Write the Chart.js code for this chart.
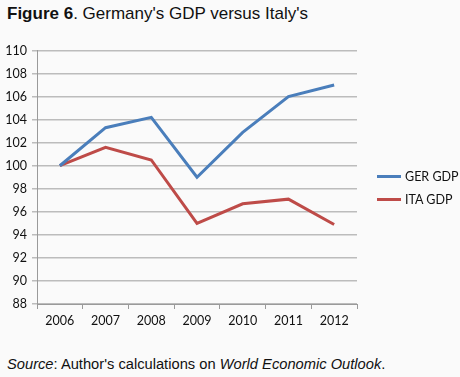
<!DOCTYPE html>
<html>
<head>
<meta charset="utf-8">
<script src="https://cdn.jsdelivr.net/npm/chart.js@4/dist/chart.umd.min.js"></script>
<style>
  body { margin: 0; background: #fafafa; width: 460px; height: 377px; overflow: hidden; position: relative; }
  #title { position: absolute; left: 7px; top: 4px; font: 17px "Liberation Sans", Arial, sans-serif; color: #111; white-space: nowrap; }
  #source { position: absolute; left: 7px; top: 356px; font: 14.7px "Liberation Sans", Arial, sans-serif; color: #111; white-space: nowrap; }
  #wrap { position: absolute; left: 0; top: 38px; width: 460px; height: 300px; }
  #legend { position: absolute; left: 377px; top: 165px; font: 12.5px Lato, sans-serif; color: #111; }
  .item { height: 23px; display: flex; align-items: center; }
  .swatch { width: 24px; height: 3px; margin-right: 4px; }
</style>
</head>
<body>
<div id="title"><b>Figure 6</b>. Germany's GDP versus Italy's</div>
<div id="wrap"><canvas id="myChart"></canvas></div>
<div id="legend"></div>
<div id="source"><i>Source</i>: Author's calculations on <i>World Economic Outlook</i>.</div>
<script>
const years = ['2006', '2007', '2008', '2009', '2010', '2011', '2012'];
const gerGdp = [100, 103.3, 104.2, 99.0, 102.9, 106.0, 107.0];
const itaGdp = [100, 101.6, 100.5, 95.0, 96.7, 97.1, 94.9];
const seriesNames = ['GER GDP', 'ITA GDP'];
const seriesColors = ['#4a7ebb', '#be4b48'];

const ctx = document.getElementById('myChart').getContext('2d');
const datasets = [gerGdp, itaGdp].map(function (vals, i) {
    return {
        label: seriesNames[i],
        data: vals,
        borderColor: seriesColors[i],
        backgroundColor: seriesColors[i],
        borderWidth: 3,
        pointRadius: 0,
        tension: 0,
        fill: false
    };
});

const tickFont = { family: 'Lato', size: 12.5 };
const myChart = new Chart(ctx, {
    type: 'line',
    data: { labels: years, datasets: datasets },
    options: {
        responsive: true,
        maintainAspectRatio: false,
        animation: false,
        layout: { padding: { top: 12, right: 103, left: 0, bottom: 0 } },
        plugins: { legend: { display: false }, tooltip: { enabled: false } },
        scales: {
            x: {
                offset: true,
                grid: { drawOnChartArea: false, tickLength: 5, color: '#9a9a9a', offset: true },
                border: { color: '#9a9a9a' },
                ticks: { font: tickFont, color: '#111', padding: 4 },
                afterFit: function (scale) { scale.height = 34; }
            },
            y: {
                min: 88,
                max: 110,
                ticks: { stepSize: 2, font: tickFont, color: '#111', padding: 5 },
                grid: { color: '#bcbcbc', lineWidth: 1.5, tickLength: 5 },
                border: { color: '#9a9a9a' },
                afterFit: function (scale) { scale.width = 37; }
            }
        }
    }
});

// legend built from the series names/colours
const legend = document.getElementById('legend');
seriesNames.forEach(function (name, i) {
    const row = document.createElement('div');
    row.className = 'item';
    row.innerHTML = '<span class="swatch" style="background:' + seriesColors[i] + '"></span>' + name;
    legend.appendChild(row);
});
</script>
</body>
</html>
